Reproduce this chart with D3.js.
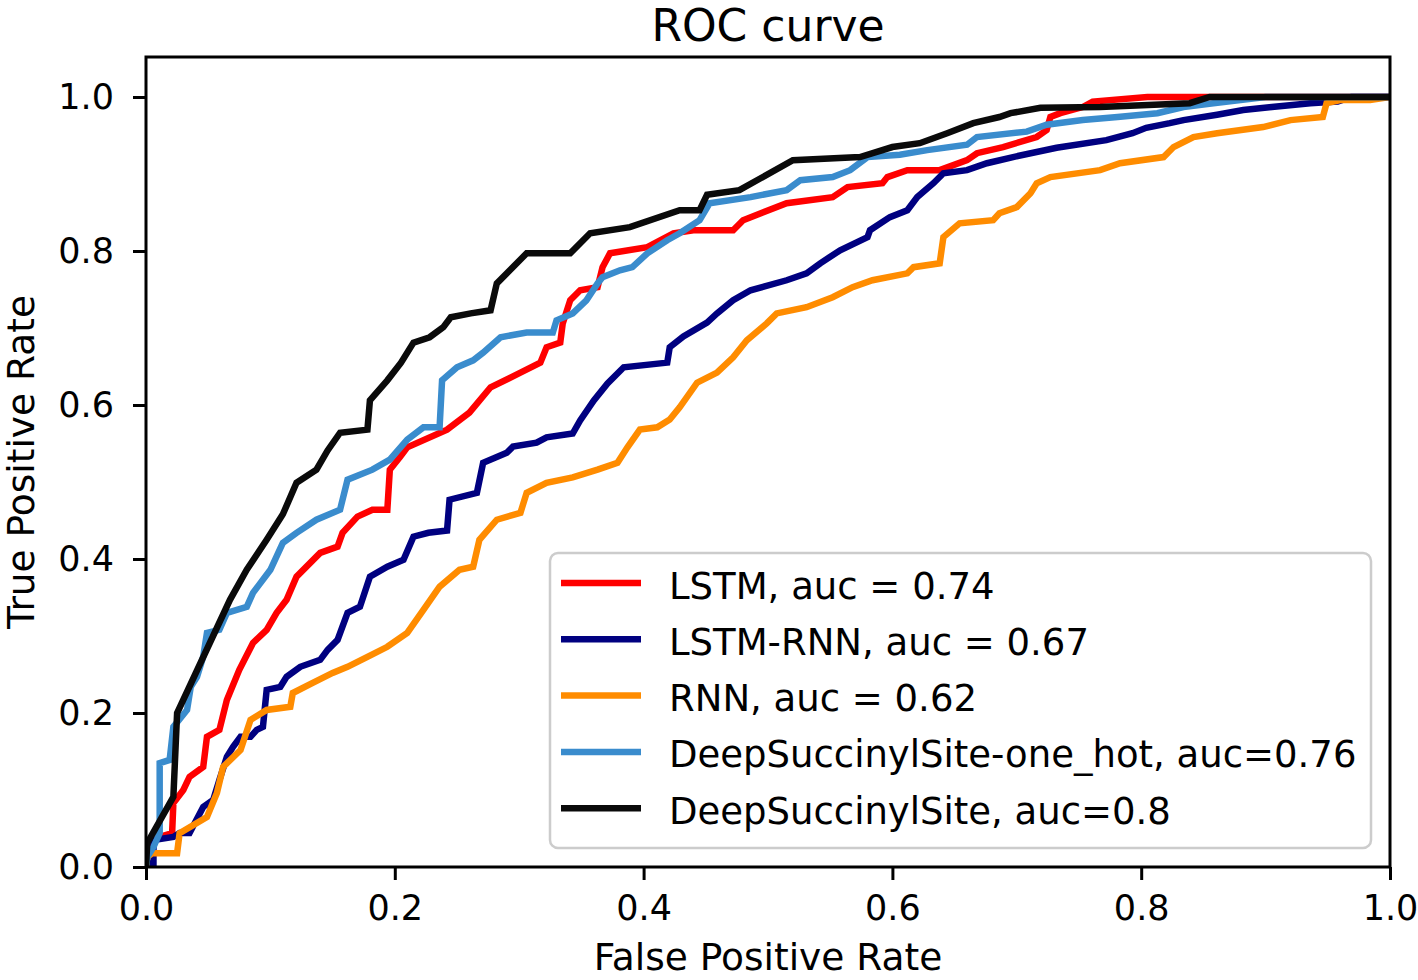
<!DOCTYPE html>
<html><head><meta charset="utf-8">
<script src="https://cdn.jsdelivr.net/npm/d3@7"></script>
<style>html,body{margin:0;padding:0;background:#fff;}svg{display:block;font-family:"DejaVu Sans",sans-serif;}</style>
</head><body>
<svg id="chart" width="1418" height="980"></svg>
<script>
const seriesNames = ["LSTM, auc = 0.74","LSTM-RNN, auc = 0.67","RNN, auc = 0.62","DeepSuccinylSite-one_hot, auc=0.76","DeepSuccinylSite, auc=0.8"];
const seriesColors = ["#ff0000","#000080","#ff8c00","#3a8ccd","#0a0a0a"];
const xTicks = [0,0.2,0.4,0.6,0.8,1.0];
const yTicks = [0,0.2,0.4,0.6,0.8,1.0];

const lstm = [[0,0],[0.001,0.026],[0.011,0.039],[0.021,0.044],[0.022,0.083],[0.03,0.10],[0.035,0.117],[0.046,0.13],[0.049,0.169],[0.059,0.178],[0.065,0.217],[0.075,0.256],[0.086,0.291],[0.097,0.308],[0.105,0.33],[0.113,0.347],[0.121,0.377],[0.140,0.408],[0.154,0.416],[0.158,0.434],[0.170,0.455],[0.182,0.464],[0.194,0.464],[0.196,0.516],[0.204,0.532],[0.210,0.545],[0.242,0.568],[0.260,0.590],[0.277,0.623],[0.301,0.642],[0.317,0.655],[0.322,0.675],[0.333,0.681],[0.335,0.706],[0.341,0.736],[0.349,0.749],[0.363,0.753],[0.367,0.779],[0.373,0.797],[0.403,0.805],[0.424,0.823],[0.440,0.827],[0.472,0.827],[0.480,0.840],[0.515,0.862],[0.552,0.870],[0.564,0.883],[0.592,0.888],[0.596,0.896],[0.612,0.905],[0.638,0.905],[0.660,0.918],[0.668,0.927],[0.689,0.935],[0.716,0.948],[0.724,0.957],[0.727,0.974],[0.735,0.979],[0.753,0.987],[0.761,0.994],[0.805,1.0],[1,1]];
const lstmRnn = [[0,0],[0.001,0.005],[0.006,0.005],[0.006,0.035],[0.022,0.039],[0.027,0.044],[0.035,0.044],[0.046,0.078],[0.054,0.087],[0.059,0.113],[0.065,0.143],[0.070,0.156],[0.076,0.169],[0.084,0.169],[0.089,0.178],[0.094,0.182],[0.097,0.230],[0.108,0.234],[0.113,0.247],[0.124,0.260],[0.140,0.269],[0.146,0.282],[0.154,0.295],[0.162,0.33],[0.172,0.338],[0.180,0.377],[0.194,0.390],[0.207,0.399],[0.215,0.429],[0.227,0.434],[0.242,0.437],[0.244,0.477],[0.266,0.486],[0.271,0.525],[0.290,0.538],[0.295,0.546],[0.314,0.551],[0.322,0.558],[0.343,0.563],[0.349,0.580],[0.360,0.606],[0.371,0.628],[0.384,0.649],[0.419,0.655],[0.421,0.675],[0.432,0.689],[0.451,0.707],[0.459,0.719],[0.472,0.736],[0.486,0.749],[0.515,0.762],[0.531,0.771],[0.542,0.784],[0.558,0.801],[0.580,0.818],[0.582,0.827],[0.598,0.844],[0.612,0.853],[0.620,0.870],[0.633,0.888],[0.641,0.901],[0.660,0.905],[0.676,0.914],[0.697,0.922],[0.732,0.934],[0.772,0.944],[0.793,0.953],[0.804,0.960],[0.823,0.966],[0.834,0.970],[0.861,0.977],[0.882,0.983],[0.905,0.987],[0.936,0.992],[0.958,0.994],[0.969,1.0],[1,1]];
const rnn = [[0,0],[0.001,0.013],[0.005,0.018],[0.025,0.018],[0.027,0.044],[0.049,0.065],[0.057,0.096],[0.062,0.130],[0.076,0.152],[0.084,0.191],[0.097,0.204],[0.116,0.208],[0.118,0.226],[0.134,0.239],[0.150,0.252],[0.162,0.260],[0.178,0.273],[0.194,0.286],[0.210,0.304],[0.223,0.334],[0.236,0.364],[0.252,0.386],[0.263,0.390],[0.268,0.425],[0.282,0.451],[0.301,0.460],[0.306,0.486],[0.322,0.499],[0.343,0.506],[0.363,0.516],[0.379,0.525],[0.387,0.545],[0.397,0.568],[0.411,0.571],[0.421,0.581],[0.429,0.597],[0.443,0.629],[0.459,0.642],[0.472,0.662],[0.483,0.684],[0.499,0.706],[0.507,0.719],[0.531,0.727],[0.552,0.740],[0.568,0.753],[0.584,0.762],[0.612,0.771],[0.617,0.779],[0.638,0.784],[0.641,0.818],[0.654,0.836],[0.681,0.840],[0.686,0.849],[0.700,0.857],[0.711,0.875],[0.716,0.888],[0.727,0.896],[0.767,0.905],[0.783,0.914],[0.818,0.922],[0.826,0.935],[0.842,0.948],[0.861,0.953],[0.898,0.961],[0.920,0.970],[0.946,0.974],[0.949,0.992],[0.960,0.996],[0.984,0.996],[1,1]];
const oneHot = [[0,0],[0.001,0.013],[0.006,0.026],[0.011,0.044],[0.011,0.135],[0.019,0.139],[0.022,0.182],[0.033,0.204],[0.036,0.234],[0.041,0.247],[0.046,0.273],[0.049,0.304],[0.059,0.308],[0.065,0.330],[0.081,0.338],[0.086,0.356],[0.100,0.386],[0.110,0.421],[0.121,0.434],[0.137,0.451],[0.156,0.464],[0.162,0.503],[0.182,0.516],[0.196,0.529],[0.210,0.555],[0.223,0.571],[0.236,0.571],[0.238,0.632],[0.250,0.649],[0.263,0.658],[0.271,0.668],[0.285,0.688],[0.306,0.694],[0.327,0.694],[0.330,0.710],[0.343,0.719],[0.354,0.736],[0.363,0.758],[0.367,0.766],[0.381,0.775],[0.391,0.779],[0.403,0.797],[0.419,0.814],[0.429,0.823],[0.445,0.840],[0.453,0.862],[0.486,0.870],[0.515,0.879],[0.526,0.892],[0.552,0.896],[0.566,0.905],[0.580,0.922],[0.606,0.925],[0.628,0.931],[0.660,0.938],[0.668,0.948],[0.708,0.955],[0.724,0.964],[0.753,0.970],[0.781,0.974],[0.813,0.979],[0.834,0.987],[0.858,0.992],[0.900,1.0],[1,1]];
const deepSite = [[0,0],[0.001,0.031],[0.022,0.091],[0.025,0.200],[0.0675,0.347],[0.081,0.386],[0.097,0.425],[0.110,0.458],[0.121,0.499],[0.137,0.516],[0.146,0.541],[0.156,0.564],[0.178,0.568],[0.180,0.606],[0.194,0.632],[0.205,0.655],[0.215,0.681],[0.228,0.688],[0.239,0.701],[0.245,0.714],[0.261,0.719],[0.277,0.723],[0.282,0.758],[0.306,0.797],[0.341,0.797],[0.357,0.823],[0.389,0.831],[0.429,0.853],[0.445,0.853],[0.451,0.873],[0.477,0.879],[0.520,0.918],[0.574,0.922],[0.600,0.935],[0.622,0.940],[0.644,0.953],[0.665,0.966],[0.686,0.974],[0.695,0.979],[0.719,0.986],[0.767,0.987],[0.839,0.992],[0.855,1.0],[1,1]];
const seriesData = [lstm, lstmRnn, rnn, oneHot, deepSite];

const svg = d3.select("#chart");
const L = 146, R = 1390, T = 57, B = 867;
const x = d3.scaleLinear().domain([0,1]).range([L,R]);
const y = d3.scaleLinear().domain([0,1.05]).range([B,B-770*1.05]);
const FS = 37.5, TFS = 35, LFS = 37;

// curves
const line = d3.line().x(d=>x(d[0])).y(d=>y(d[1]));
svg.append("clipPath").attr("id","clip").append("rect").attr("x",L).attr("y",T).attr("width",R-L).attr("height",B-T);
const g = svg.append("g").attr("clip-path","url(#clip)");
seriesData.forEach((s,i)=>{
  g.append("path").datum(s).attr("d",line).attr("fill","none")
   .attr("stroke",seriesColors[i]).attr("stroke-width",6.5)
   .attr("stroke-linejoin","miter").attr("stroke-linecap","butt");
});

// axes
const xAxis = d3.axisBottom(x).tickValues(xTicks).tickFormat(d3.format(".1f")).tickSize(13).tickPadding(13);
const yAxis = d3.axisLeft(y).tickValues(yTicks).tickFormat(d3.format(".1f")).tickSize(13).tickPadding(19);
const gx = svg.append("g").attr("transform",`translate(0,${B})`).call(xAxis);
const gy = svg.append("g").attr("transform",`translate(${L},0)`).call(yAxis);
[gx,gy].forEach(a=>{
  a.select(".domain").remove();
  a.selectAll(".tick line").attr("stroke","#000").attr("stroke-width",3);
  a.selectAll(".tick text").attr("fill","#000").style("font-size",TFS+"px").style("font-family","DejaVu Sans");
});
gx.selectAll(".tick text").attr("dy","0.76em");
// frame
svg.append("rect").attr("x",L).attr("y",T).attr("width",R-L).attr("height",B-T)
  .attr("fill","none").attr("stroke","#000").attr("stroke-width",3);

// titles
svg.append("text").attr("x",(L+R)/2).attr("y",41).attr("text-anchor","middle")
  .style("font-size","44px").text("ROC curve");
svg.append("text").attr("x",(L+R)/2).attr("y",970).attr("text-anchor","middle")
  .style("font-size",FS+"px").text("False Positive Rate");
svg.append("text").attr("transform",`translate(34,${(T+B)/2}) rotate(-90)`).attr("text-anchor","middle")
  .style("font-size",FS+"px").text("True Positive Rate");

// legend
const lg = svg.append("g");
lg.append("rect").attr("x",550).attr("y",553).attr("width",821).attr("height",295).attr("rx",8)
  .attr("fill","#fff").attr("fill-opacity",0.8).attr("stroke","#cccccc").attr("stroke-width",2.5);
seriesNames.forEach((n,i)=>{
  const yy = 583 + i*56.3;
  lg.append("line").attr("x1",561).attr("x2",641).attr("y1",yy).attr("y2",yy)
    .attr("stroke",seriesColors[i]).attr("stroke-width",6.5);
  lg.append("text").attr("x",669).attr("y",yy).attr("dy","0.42em")
    .style("font-size",LFS+"px").attr("fill","#000").text(n);
});
</script>
</body></html>
